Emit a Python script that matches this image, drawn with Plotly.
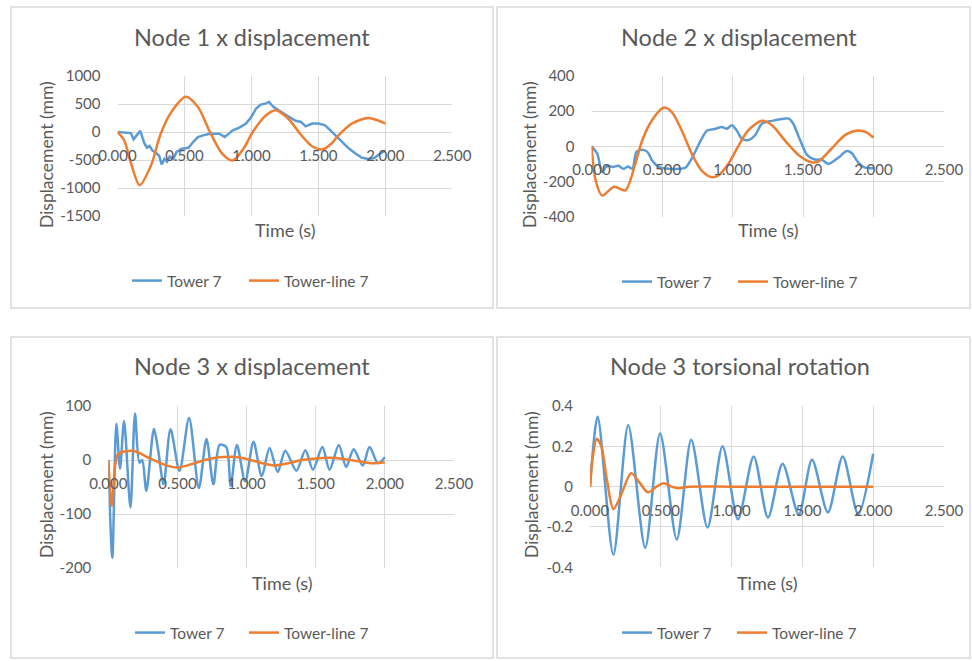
import plotly.graph_objects as go

# ---------------- data ----------------
# Panel 1: Node 1 x displacement (mm)
n1_tower_t = [0, 0.05, 0.10, 0.12, 0.15, 0.17, 0.20, 0.22, 0.24, 0.26, 0.29, 0.31, 0.33, 0.35,
              0.37, 0.39, 0.417, 0.44, 0.48, 0.53, 0.565, 0.60, 0.64, 0.69, 0.76, 0.80, 0.825,
              0.86, 0.91, 0.96, 1.00, 1.035, 1.07, 1.11, 1.13, 1.16, 1.195, 1.23, 1.28, 1.33,
              1.37, 1.405, 1.455, 1.50, 1.55, 1.59, 1.63, 1.68, 1.73, 1.78, 1.825, 1.875, 1.92,
              1.96, 2.00]
n1_tower_v = [0, -10, -20, -130, -30, 20, -200, -280, -250, -330, -380, -420, -580, -480,
              -530, -440, -480, -360, -300, -282, -180, -90, -60, -30, -30, -90, -42,
              30, 78, 150, 270, 420, 490, 510, 540, 460, 400, 340, 270, 200,
              180, 100, 150, 150, 120, 30, -60, -180, -300, -390, -460, -480, -460,
              -390, -330]
n1_line_t = [0, 0.05, 0.10, 0.165, 0.25, 0.32, 0.40, 0.51, 0.60, 0.69, 0.78, 0.86, 0.94, 1.01,
             1.10, 1.18, 1.27, 1.37, 1.45, 1.53, 1.60, 1.65, 1.75, 1.87, 1.95, 2.00]
n1_line_v = [0, -150, -550, -950, -600, -50, 350, 630, 450, 0, -380, -510, -300, 0,
             280, 390, 250, -50, -250, -310, -200, -60, 150, 250, 200, 150]

# Panel 2: Node 2 x displacement (mm)
n2_tower_t = [0, 0.04, 0.075, 0.10, 0.12, 0.15, 0.19, 0.225, 0.26, 0.29, 0.32, 0.37, 0.40, 0.43,
              0.48, 0.55, 0.62, 0.665, 0.71, 0.77, 0.82, 0.88, 0.925, 0.96, 0.995, 1.03, 1.065,
              1.11, 1.16, 1.21, 1.28, 1.35, 1.40, 1.43, 1.48, 1.53, 1.585, 1.63, 1.68, 1.75,
              1.81, 1.845, 1.89, 1.93, 2.00]
n2_tower_v = [0, -40, -147, -120, -110, -118, -110, -128, -115, -128, -30, -20, -35, -80,
              -118, -128, -128, -122, -70, 25, 90, 100, 110, 100, 120, 90, 45,
              35, 63, 130, 145, 155, 158, 130, 35, -50, -75, -75, -100, -65,
              -27, -38, -90, -118, -125]
n2_line_t = [0, 0.03, 0.075, 0.16, 0.24, 0.31, 0.36, 0.43, 0.51, 0.57, 0.64, 0.71, 0.78, 0.85,
             0.90, 0.97, 1.04, 1.11, 1.21, 1.28, 1.37, 1.47, 1.56, 1.61, 1.70, 1.80, 1.89,
             1.95, 2.00]
n2_line_v = [0, -195, -280, -230, -250, -100, 35, 150, 220, 195, 90, -40, -137, -175,
             -165, -100, 0, 90, 145, 120, 35, -50, -90, -85, -15, 65, 90,
             80, 50]

# Panel 3: Node 3 x displacement (mm)
n3_tower_t = [0, 0.029, 0.058, 0.085, 0.114, 0.16, 0.193, 0.225, 0.245, 0.275, 0.33, 0.36, 0.40,
              0.45, 0.515, 0.584, 0.655, 0.71, 0.76, 0.805, 0.853, 0.885, 0.93, 0.99, 1.05,
              1.11, 1.166, 1.225, 1.28, 1.36, 1.425, 1.48, 1.548, 1.60, 1.667, 1.72, 1.774,
              1.84, 1.889, 1.95, 2.00]
n3_tower_v = [0, -181, 67, -16, 72, -88, 86, -5, 0, -57, 58, 19, -45,
              57, -20, 78, -52, 39, -45, 28, 24, -48, 28, -40, 34,
              -30, 22, -22, 17, -20, 18, -18, 24, -18, 28, -13, 20,
              -10, 24, -6, 5]
n3_line_t = [0, 0.025, 0.05, 0.075, 0.18, 0.30, 0.40, 0.50, 0.60, 0.70, 0.80, 0.90, 1.00, 1.10,
             1.20, 1.30, 1.40, 1.50, 1.60, 1.70, 1.80, 1.90, 2.00]
n3_line_v = [0, -85, -10, 12, 17, 3, -8, -14, -8, 0, 5, 6, 2, -5,
             -10, -6, 0, 3, 4, 2, -2, -6, -4]

# Panel 4: Node 3 torsional rotation
n4_tower_t = [0, 0.054, 0.165, 0.27, 0.39, 0.495, 0.613, 0.715, 0.83, 0.936, 1.045, 1.156, 1.257,
              1.36, 1.474, 1.568, 1.68, 1.785, 1.894, 2.00]
n4_tower_v = [0, 0.347, -0.337, 0.305, -0.303, 0.263, -0.262, 0.233, -0.203, 0.200, -0.162, 0.150,
              -0.153, 0.113, -0.137, 0.133, -0.128, 0.150, -0.137, 0.163]
n4_line_t = [0, 0.02, 0.047, 0.08, 0.12, 0.165, 0.22, 0.29, 0.35, 0.408, 0.47, 0.52, 0.575, 0.625,
             0.70, 1.00, 1.50, 2.00]
n4_line_v = [0, 0.15, 0.238, 0.20, 0.03, -0.112, -0.04, 0.067, 0.02, -0.028, 0.0, 0.017, 0.0, -0.008,
             0, 0, 0, 0]

titles = ["Node 1 x displacement", "Node 2 x displacement",
          "Node 3 x displacement", "Node 3 torsional rotation"]
series_names = ["Tower 7", "Tower-line 7"]
x_tickvals = [0, 0.5, 1.0, 1.5, 2.0, 2.5]
x_ticktext = ["0.000", "0.500", "1.000", "1.500", "2.000", "2.500"]
y_tickvals = [[1000, 500, 0, -500, -1000, -1500],
              [400, 200, 0, -200, -400],
              [100, 0, -100, -200],
              [0.4, 0.2, 0, -0.2, -0.4]]
y_ticktext = [["1000", "500", "0", "-500", "-1000", "-1500"],
              ["400", "200", "0", "-200", "-400"],
              ["100", "0", "-100", "-200"],
              ["0.4", "0.2", "0", "-0.2", "-0.4"]]
y_ranges = [[-1500, 1000], [-400, 400], [-200, 100], [-0.4, 0.4]]
x_title = "Time (s)"
y_title = "Displacement (mm)"

# ---------------- layout geometry (pixels) ----------------
W, H = 972, 661
BLUE, ORANGE = "#5b9bd5", "#ed7d31"
TXT = "#595959"
GRID = "#d9d9d9"
FONT = "Lato"

def fx(px):
    return px / W

def fy(py):
    return 1 - py / H

# plot areas: (left, right, top, bottom)
areas = [(117.5, 452.3, 76, 216), (591.5, 944, 76, 216.7),
         (108.3, 454, 406, 568), (590, 944, 406, 567.3)]
title_pos = [(252, 37), (739, 37), (252, 366), (740, 366)]
ytitle_pos = [(47, 155), (530, 155), (47, 485), (532, 485)]
xtitle_pos = [(285, 230), (768, 230), (282, 583), (767, 583)]
# legend sample line start x for the two series, and legend row y
legend_x = [(132, 249), (622, 738), (135, 249), (622, 737)]
legend_y = [281, 282, 633, 633]
boxes = [(11, 7, 493, 308), (497, 7, 970, 308), (11, 337, 493, 658), (497, 337, 970, 658)]

data = [(n1_tower_t, n1_tower_v, n1_line_t, n1_line_v, "linear"),
        (n2_tower_t, n2_tower_v, n2_line_t, n2_line_v, "spline"),
        (n3_tower_t, n3_tower_v, n3_line_t, n3_line_v, "spline"),
        (n4_tower_t, n4_tower_v, n4_line_t, n4_line_v, "spline")]

fig = go.Figure()
annotations = []
shapes = []
layout = {}

for i in range(4):
    k = "" if i == 0 else str(i + 1)
    xa, ya = "x" + k, "y" + k
    lgA = "legend" if i == 0 else "legend" + str(2 * i + 1)
    lgB = "legend" + str(2 * i + 2)
    tt, tv, lt, lv, shape_b = data[i]
    fig.add_trace(go.Scatter(x=tt, y=tv, mode="lines", name=series_names[0],
                             line=dict(color=BLUE, width=2.5, shape=shape_b, smoothing=0.8),
                             xaxis=xa, yaxis=ya, legend=lgA))
    fig.add_trace(go.Scatter(x=lt, y=lv, mode="lines", name=series_names[1],
                             line=dict(color=ORANGE, width=2.5, shape="spline", smoothing=0.8),
                             xaxis=xa, yaxis=ya, legend=lgB))
    l, r, t, b = areas[i]
    y0, y1 = y_ranges[i]
    zero_py = t + (y1 - 0) / (y1 - y0) * (b - t)
    layout["xaxis" + k] = dict(domain=[fx(l), fx(r)], range=[0, 2.5], anchor="free",
                               position=fy(zero_py), tickvals=x_tickvals, ticktext=x_ticktext,
                               showgrid=True, gridcolor=GRID, gridwidth=1, zeroline=False,
                               showline=False, ticks="outside", ticklen=10, automargin=False,
                               tickcolor="rgba(0,0,0,0)",
                               tickfont=dict(family=FONT, size=15, color=TXT))
    layout["yaxis" + k] = dict(domain=[fy(b), fy(t)], range=[y0, y1], anchor=xa,
                               tickvals=y_tickvals[i], ticktext=y_ticktext[i],
                               showgrid=True, gridcolor=GRID, gridwidth=1, zeroline=False,
                               showline=False, ticks="outside", ticklen=13, automargin=False,
                               tickcolor="rgba(0,0,0,0)",
                               tickfont=dict(family=FONT, size=15, color=TXT))
    for lg, lx in ((lgA, legend_x[i][0]), (lgB, legend_x[i][1])):
        layout[lg] = dict(orientation="h", x=fx(lx - 5), y=fy(legend_y[i]),
                          xanchor="left", yanchor="middle",
                          bgcolor="rgba(0,0,0,0)", font=dict(family=FONT, size=15.5, color=TXT),
                          itemwidth=30, tracegroupgap=0)
    tx, ty = title_pos[i]
    annotations.append(dict(text=titles[i], x=fx(tx), y=fy(ty), xref="paper", yref="paper",
                            xanchor="center", yanchor="middle", showarrow=False,
                            font=dict(family=FONT, size=23.5, color=TXT)))
    ax_, ay_ = ytitle_pos[i]
    annotations.append(dict(text=y_title, x=fx(ax_), y=fy(ay_), xref="paper", yref="paper",
                            xanchor="center", yanchor="middle", showarrow=False, textangle=-90,
                            font=dict(family=FONT, size=17.5, color=TXT)))
    bx, by = xtitle_pos[i]
    annotations.append(dict(text=x_title, x=fx(bx), y=fy(by), xref="paper", yref="paper",
                            xanchor="center", yanchor="middle", showarrow=False,
                            font=dict(family=FONT, size=18, color=TXT)))
    x0b, y0b, x1b, y1b = boxes[i]
    shapes.append(dict(type="rect", xref="paper", yref="paper",
                       x0=fx(x0b), x1=fx(x1b), y0=fy(y1b), y1=fy(y0b),
                       line=dict(color=GRID, width=1.5), fillcolor="rgba(0,0,0,0)", layer="below"))

fig.update_layout(template="none", width=W, height=H,
                  margin=dict(l=0, r=0, t=0, b=0, autoexpand=False),
                  paper_bgcolor="white", plot_bgcolor="white", showlegend=True,
                  annotations=annotations, shapes=shapes, **layout)

fig.write_html("out.html", config={"displayModeBar": False},
               post_script="document.body.style.margin='0';document.body.style.overflow='hidden';")
